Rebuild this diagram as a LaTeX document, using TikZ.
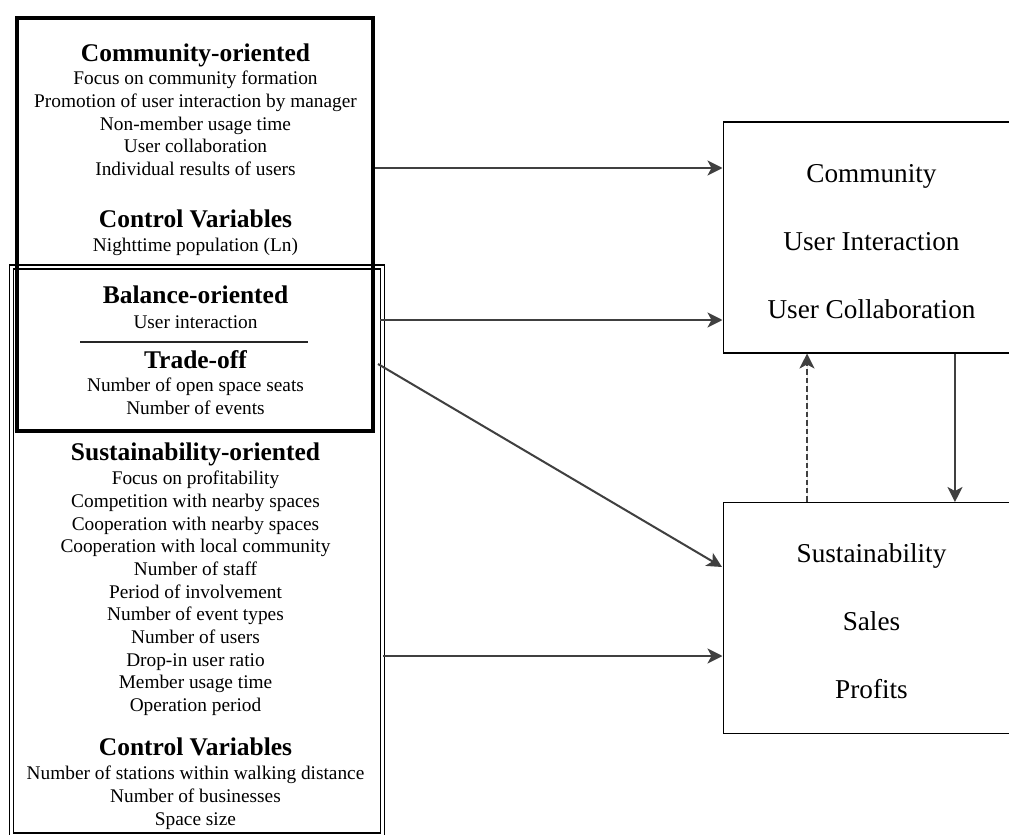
\documentclass[tikz,border=0pt]{standalone}
\usepackage{fontspec}
\setmainfont{Liberation Serif}
\usepackage{tikz}
\usetikzlibrary{arrows.meta,positioning}

\definecolor{linegray}{HTML}{404040}

\begin{document}
\begin{tikzpicture}[x=0.02cm, y=-0.02cm,
    head/.style={anchor=base, inner sep=0pt, align=center,
                 font=\fontsize{14.5}{17}\selectfont\bfseries},
    item/.style={anchor=base, inner sep=0pt, align=center,
                 font=\fontsize{11}{12.9}\selectfont},
    box/.style={draw, line width=0.6pt, minimum width=5.94cm,
                minimum height=4.62cm},
    boxtext/.style={anchor=base, inner sep=0pt, align=center,
                    font=\fontsize{15.5}{38.7}\selectfont},
    conn/.style={-{Stealth[length=0.3cm, width=0.3cm, inset=0.08cm]},
                 line width=1.15pt, draw=linegray, fill=linegray}]

    \useasboundingbox (0,0) rectangle (1009,835);

    % Frames on the left
    \node[draw, double, line width=0.75pt, double distance=1.6pt,
          minimum width=7.42cm, minimum height=11.36cm] (susframe) at (197,551) {};
    \node[draw, line width=2.3pt, minimum width=7.12cm,
          minimum height=8.26cm] (comframe) at (195,224.5) {};

    % Left texts (multi-line nodes sit on their last line)
    \node[head] (comhead) at (195.5,61) {Community-oriented};
    \node[item] (comitems) at (195.5,175.5) {Focus on community formation\\
        Promotion of user interaction by manager\\Non-member usage time\\
        User collaboration\\Individual results of users};
    \node[head] (ctrlhead) at (195.5,227) {Control Variables};
    \node[item] (ctrlitems) at (195.5,251) {Nighttime population (Ln)};

    \node[head] (balhead) at (195.5,303) {Balance-oriented};
    \node[item] (balitems) at (195.5,328) {User interaction};
    \draw[line width=0.9pt, black!85] (80,342) -- (308,342);
    \node[head] (tradehead) at (195.5,368) {Trade-off};
    \node[item] (tradeitems) at (195.5,414.5) {Number of open space seats\\
        Number of events};

    \node[head] (sushead) at (195.5,460) {Sustainability-oriented};
    \node[item] (susitems) at (195.5,711.5) {Focus on profitability\\
        Competition with nearby spaces\\Cooperation with nearby spaces\\
        Cooperation with local community\\Number of staff\\
        Period of involvement\\Number of event types\\Number of users\\
        Drop-in user ratio\\Member usage time\\Operation period};
    \node[head] (ctrlhead2) at (195.5,755) {Control Variables};
    \node[item] (ctrlitems2) at (195.5,825) {Number of stations within walking distance\\
        Number of businesses\\Space size};

    % Outcome boxes
    \node[box] (community) at (871.5,237.5) {};
    \node[boxtext] (comtext) at (871.5,318) {Community\\User Interaction\\User Collaboration};
    \node[box] (sustain) at (871.5,618) {};
    \node[boxtext] (sustext) at (871.5,698) {Sustainability\\Sales\\Profits};

    % Arrows
    \draw[conn] (comframe.east |- 0,168) -- (community.west |- 0,168);
    \draw[conn] (380,320) -- (community.west |- 0,320);
    \draw[conn] (378,364) -- (722,567);
    \draw[conn] (susframe.east |- 0,656) -- (sustain.west |- 0,656);
    \draw[conn, dash pattern=on 0.11cm off 0.06cm]
        ([xshift=-1.29cm]sustain.north) -- ([xshift=-1.29cm]community.south);
    \draw[conn] ([xshift=1.67cm]community.south) -- ([xshift=1.67cm]sustain.north);
\end{tikzpicture}
\end{document}
